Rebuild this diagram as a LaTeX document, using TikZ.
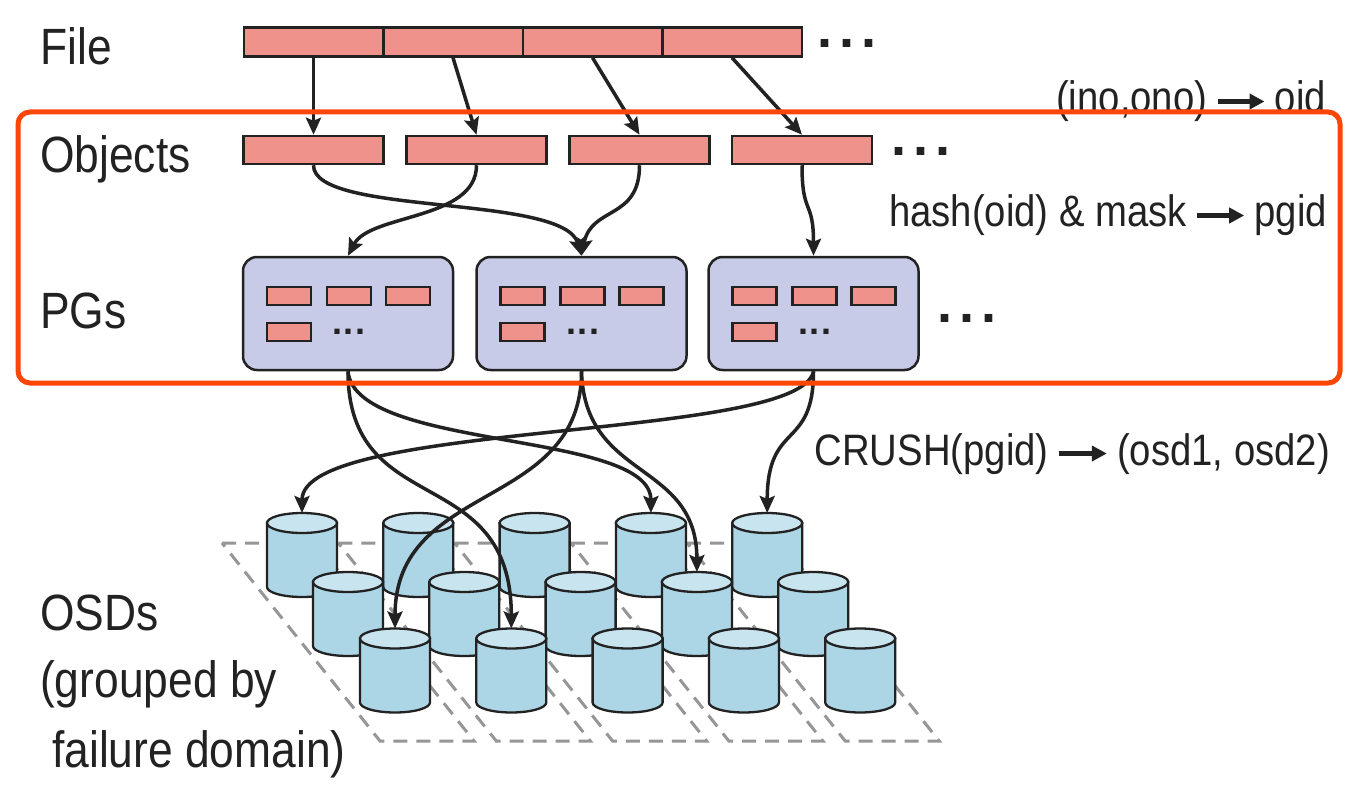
\documentclass[tikz,border=0pt]{standalone}
\usepackage{fontspec}
\setmainfont{Liberation Sans}[FakeStretch=0.87]
\newfontfamily\dotfont{Liberation Sans}
\usetikzlibrary{arrows.meta}

\definecolor{ink}{RGB}{34,34,34}
\definecolor{objfill}{RGB}{240,146,140}
\definecolor{pgfill}{RGB}{200,203,232}
\definecolor{cylbody}{RGB}{172,213,229}
\definecolor{cyltop}{RGB}{200,228,238}
\definecolor{gridgray}{RGB}{150,150,150}
\definecolor{focusred}{RGB}{252,70,8}

\tikzset{
  lab/.style={font=\fontsize{51}{51}\selectfont, text=ink, inner sep=0pt, anchor=base west},
  rlab/.style={font=\fontsize{44}{44}\selectfont, text=ink, inner sep=0pt, anchor=base east},
  bigdots/.style={font=\dotfont\bfseries\fontsize{54}{54}\selectfont, text=ink, inner sep=0pt},
  smalldots/.style={font=\dotfont\bfseries\fontsize{36}{36}\selectfont, text=ink, inner sep=0pt},
  seg/.style={draw=ink, fill=objfill, line width=2.5pt, minimum width=139.5pt, minimum height=29pt, inner sep=0pt},
  obj/.style={draw=ink, fill=objfill, line width=2.5pt, minimum width=140pt, minimum height=28pt, inner sep=0pt},
  pgbox/.style={draw=ink, fill=pgfill, line width=2.5pt, rounded corners=14pt, minimum width=210pt, minimum height=113pt, inner sep=0pt},
  mini/.style={draw=ink, fill=objfill, line width=2.2pt, minimum width=44pt, minimum height=18pt, inner sep=0pt},
  conn/.style={draw=ink, line width=3.5pt, -{Stealth[length=17pt, width=15pt, inset=3pt]}},
  textarr/.style={draw=ink, line width=4.2pt, -{Triangle[length=15pt, width=15pt]}},
  gridline/.style={draw=gridgray, line width=3pt, dash pattern=on 14pt off 9pt},
  cylline/.style={draw=ink, line width=2.3pt},
  focus/.style={draw=focusred, line width=5pt, rounded corners=12pt, inner sep=0pt},
  osd/.pic={
    \draw[cylline, fill=cylbody] (-35,-32) -- (-35,32)
      arc[start angle=180, end angle=0, x radius=35, y radius=10] -- (35,-32) -- cycle;
    \draw[cylline, fill=cyltop] (0,-32) ellipse [x radius=35, y radius=10];
    \coordinate (-top) at (0,-42);
  }
}

\begin{document}
\begin{tikzpicture}[x=1pt, y=-1pt]
\useasboundingbox[fill=white] (0,0) rectangle (1372,802);

% layer names on the left
\node[lab] (lfile) at (40,65) {File};
\node[lab] (lobj) at (40,173) {Objects};
\node[lab] (lpg) at (40,328) {PGs};
\node[lab] (losd) at (40,630) {OSDs};
\node[lab] (lgrp) at (40,697) {(grouped by};
\node[lab] (lfail) at (52,767) {failure domain)};

% the file, cut into four pieces
\foreach \i/\x in {1/313.5, 2/453, 3/592.5, 4/732}
  \node[seg] (f\i) at (\x,42) {};
\node[bigdots] (fdots) at (847,43) {.\kern7.5pt.\kern7.5pt.};

% objects
\foreach \i/\x in {1/313.5, 2/476.5, 3/639.5, 4/802}
  \node[obj] (o\i) at (\x,150) {};
\node[bigdots] (odots) at (921,151) {.\kern7.5pt.\kern7.5pt.};

% placement groups with their objects
\foreach \i/\x in {1/348, 2/581.5, 3/813.5} {
  \node[pgbox] (pg\i) at (\x,313.5) {};
  \begin{scope}[shift={(\x,313.5)}]
    \node[mini] (pg\i a) at (-59,-17.5) {};
    \node[mini] (pg\i b) at (1,-17.5) {};
    \node[mini] (pg\i c) at (60,-17.5) {};
    \node[mini] (pg\i d) at (-59,18.5) {};
    \node[smalldots] (pg\i e) at (1,18.5) {.\kern1.5pt.\kern1.5pt.};
  \end{scope}
}
\node[bigdots] (pgdots) at (967,318) {.\kern7.5pt.\kern7.5pt.};

% failure domains on the floor
\foreach \i in {0,...,4}
  \draw[gridline] ({222+116.3*\i},543) -- ({316+116.3*\i},543)
    -- ({474+116.3*\i},741) -- ({380+116.3*\i},741) -- cycle;

% OSDs, back row to front row
\foreach \i in {1,...,5}
  \pic (t\i) at ({302+116.3*(\i-1)},555) {osd};
\foreach \i in {1,...,5}
  \pic (m\i) at ({348+116.3*(\i-1)},614) {osd};
\foreach \i in {1,...,5}
  \pic (b\i) at ({395+116.3*(\i-1)},670.5) {osd};

% file -> objects
\foreach \i in {1,...,4}
  \draw[conn] (f\i.south) -- (o\i.north);

% objects -> placement groups
\draw[conn] (o1.south) .. controls +(0,51) and +(-18,-62) .. (pg2.north);
\draw[conn] (o2.south) .. controls +(0,55) and +(22,-42) .. (pg1.north);
\draw[conn] (o3.south) .. controls +(0,55) and +(10,-50) .. (pg2.north);
\draw[conn] (o4.south) .. controls +(0,51) and +(0,-57) .. (pg3.north);

% placement groups -> OSDs
\draw[conn] (pg1.south) .. controls +(0,150) and +(0,-168) .. (b2-top);
\draw[conn] (pg1.south) .. controls +(7,80) and +(0,-83) .. (t4-top);
\draw[conn] (pg2.south) .. controls +(0,140) and +(0,-148) .. (b1-top);
\draw[conn] (pg2.south) .. controls +(3,110) and +(0,-112) .. (m4-top);
\draw[conn] (pg3.south) .. controls +(-13,70) and +(0,-93) .. (t1-top);
\draw[conn] (pg3.south) .. controls +(0,80) and +(0,-93) .. (t5-top);

% mapping functions
\node[rlab] (oidT) at (1326,113) {oid};
\node[rlab] (inoT) at ([xshift=-67pt]oidT.base west) {(ino,ono)};
\draw[textarr] ([xshift=10pt,yshift=11.5pt]inoT.base east) -- ([xshift=-10pt,yshift=11.5pt]oidT.base west);

\node[rlab] (pgidT) at (1327,227) {pgid};
\node[rlab] (hashT) at ([xshift=-67pt]pgidT.base west) {hash(oid) \& mask};
\draw[textarr] ([xshift=10pt,yshift=11.5pt]hashT.base east) -- ([xshift=-10pt,yshift=11.5pt]pgidT.base west);

\node[rlab] (osdT) at (1330,465) {(osd1, osd2)};
\node[rlab] (crushT) at ([xshift=-68pt]osdT.base west) {CRUSH(pgid)};
\draw[textarr] ([xshift=10pt,yshift=11.5pt]crushT.base east) -- ([xshift=-10pt,yshift=11.5pt]osdT.base west);

% highlighted objects / PG stage
\node[focus, minimum width=1322pt, minimum height=271pt] (frame) at (679,247.5) {};
\end{tikzpicture}
\end{document}
